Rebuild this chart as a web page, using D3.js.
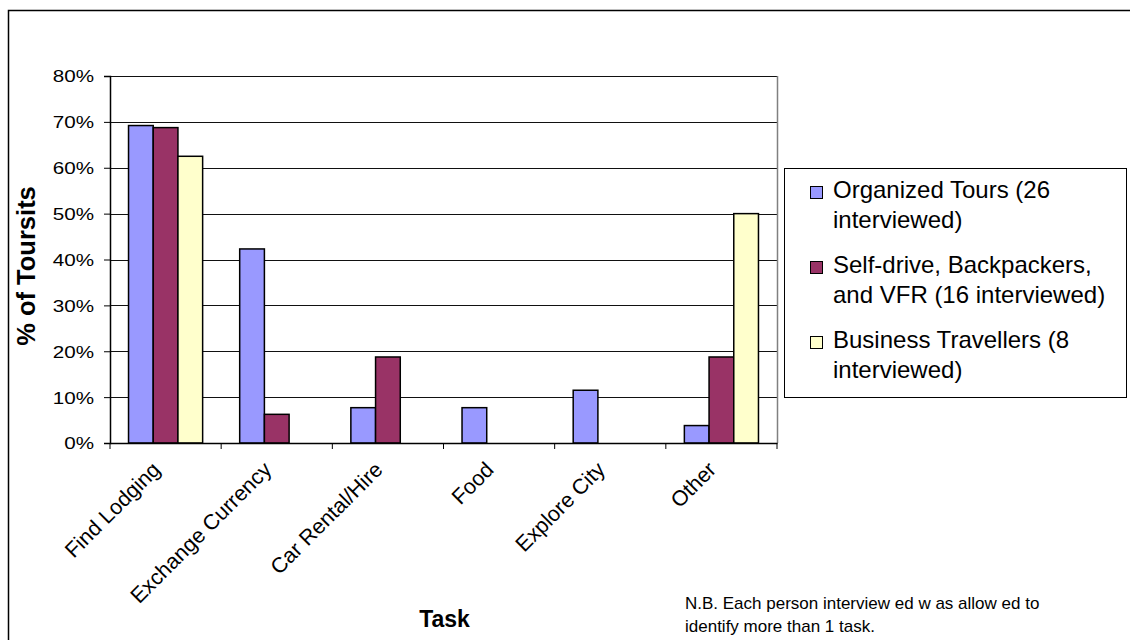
<!DOCTYPE html>
<html>
<head>
<meta charset="utf-8">
<script src="https://cdn.jsdelivr.net/npm/d3@7"></script>
<style>
  html, body { margin: 0; padding: 0; background: #fff; }
  svg { display: block; font-family: Arial, "Liberation Sans", sans-serif; }
</style>
</head>
<body>
<svg id="chart" width="1130" height="640"></svg>
<script>
const categories = ["Find Lodging", "Exchange Currency", "Car Rental/Hire", "Food", "Explore City", "Other"];
const seriesNames = [
  ["Organized Tours (26", "interviewed)"],
  ["Self-drive, Backpackers,", "and VFR (16 interviewed)"],
  ["Business Travellers (8", "interviewed)"]
];
const organizedTours = [0.692, 0.423, 0.077, 0.077, 0.115, 0.038];
const selfDrive      = [0.6875, 0.0625, 0.1875, 0, 0, 0.1875];
const business       = [0.625, 0, 0, 0, 0, 0.5];
const seriesColors = ["#9999FF", "#993366", "#FFFFCC"];
const yTicks = [0, 0.1, 0.2, 0.3, 0.4, 0.5, 0.6, 0.7, 0.8];
const yTitle = "% of Toursits";
const xTitle = "Task";
const noteLines = ["N.B. Each person interview ed w as allow ed to", "identify more than 1 task."];

const seriesValues = [organizedTours, selfDrive, business];

const svg = d3.select("#chart");
const W = 1130, H = 640;
const plot = {left: 110, right: 777, top: 76, bottom: 443};

svg.append("rect").attr("x", 0).attr("y", 0).attr("width", W).attr("height", H).attr("fill", "#fff");
svg.append("rect").attr("x", 8.5).attr("y", 10.5).attr("width", W + 10).attr("height", H + 10)
  .attr("fill", "none").attr("stroke", "#000").attr("stroke-width", 1.5);

const x0 = d3.scaleBand().domain(categories).range([plot.left, plot.right]).paddingInner(0).paddingOuter(0);
const x1 = d3.scaleBand().domain(d3.range(3)).range([0, x0.bandwidth()]).paddingInner(0).paddingOuter(0.75);
const y = d3.scaleLinear().domain([0, 0.8]).range([plot.bottom, plot.top]);

// gridlines
svg.append("g").selectAll("line").data(yTicks.filter(d => d > 0)).join("line")
  .attr("x1", plot.left).attr("x2", plot.right)
  .attr("y1", d => Math.round(y(d)) + 0.5).attr("y2", d => Math.round(y(d)) + 0.5)
  .attr("stroke", "#111").attr("stroke-width", 1);
svg.append("line").attr("x1", plot.right + 0.5).attr("x2", plot.right + 0.5)
  .attr("y1", plot.top).attr("y2", plot.bottom).attr("stroke", "#808080").attr("stroke-width", 1.5);

// bars
const groups = svg.append("g").selectAll("g").data(categories).join("g")
  .attr("transform", d => `translate(${x0(d)},0)`);
groups.selectAll("rect").data((c, i) => seriesValues.map((s, k) => ({k, v: s[i]})).filter(d => d.v > 0)).join("rect")
  .attr("x", d => x1(d.k)).attr("width", x1.bandwidth())
  .attr("y", d => y(d.v)).attr("height", d => y(0) - y(d.v))
  .attr("fill", d => seriesColors[d.k]).attr("stroke", "#000").attr("stroke-width", 1.5);

// y axis
const yAxis = d3.axisLeft(y).tickValues(yTicks).tickFormat(d3.format(".0%")).tickSizeOuter(0).tickSize(6).tickPadding(10);
const yg = svg.append("g").attr("transform", `translate(${plot.left},0)`).call(yAxis);
yg.select(".domain").attr("stroke", "#000").attr("stroke-width", 1.5);
yg.selectAll(".tick line").attr("stroke", "#000");
yg.selectAll(".tick text").attr("font-size", 16.5).attr("font-family", "Arial, 'Liberation Sans', sans-serif").attr("fill", "#000")
  .attr("x", 0).attr("dy", "0.36em").attr("transform", `translate(-16,0) scale(1.25,1)`);

// x axis
const xAxis = d3.axisBottom(x0).tickSize(0).tickSizeOuter(0);
const xg = svg.append("g").attr("transform", `translate(0,${plot.bottom})`).call(xAxis);
xg.select(".domain").attr("stroke", "#000").attr("stroke-width", 1.5);
const boundaries = categories.map(c => x0(c)).concat([plot.right]);
xg.selectAll(".bt").data(boundaries).join("line").attr("class", "bt")
  .attr("x1", d => d).attr("x2", d => d).attr("y1", 0).attr("y2", 6).attr("stroke", "#000");
xg.selectAll(".tick text")
  .attr("font-size", 21.5).attr("font-family", "Arial, 'Liberation Sans', sans-serif").attr("fill", "#000")
  .attr("text-anchor", "end").attr("dy", 0).attr("y", 0).attr("x", 0)
  .attr("transform", `translate(-4,28) rotate(-45)`);

// axis titles
svg.append("text").attr("transform", `translate(35,266) rotate(-90)`)
  .attr("text-anchor", "middle").attr("font-size", 25.5).attr("font-weight", "bold").text(yTitle);
svg.append("text").attr("x", (plot.left + plot.right) / 2 + 1).attr("y", 627)
  .attr("text-anchor", "middle").attr("font-size", 23).attr("font-weight", "bold").text(xTitle);

// legend
const lg = svg.append("g");
lg.append("rect").attr("x", 784.5).attr("y", 168.5).attr("width", 342).attr("height", 229)
  .attr("fill", "#fff").attr("stroke", "#000").attr("stroke-width", 1);
const legendItems = lg.selectAll("g.item").data(seriesNames).join("g").attr("class", "item")
  .attr("transform", (d, i) => `translate(0,${198 + i * 75})`);
legendItems.append("rect").attr("x", 810.5).attr("y", -11.5).attr("width", 12).attr("height", 12)
  .attr("fill", (d, i) => seriesColors[i]).attr("stroke", "#000").attr("stroke-width", 1);
legendItems.selectAll("text").data(d => d).join("text")
  .attr("x", 833).attr("y", (d, j) => j * 30)
  .attr("font-size", 24).attr("fill", "#000").text(d => d);

// note
svg.append("g").selectAll("text").data(noteLines).join("text")
  .attr("x", 685).attr("y", (d, i) => 609 + i * 23)
  .attr("font-size", 17).attr("fill", "#000").text(d => d);
</script>
</body>
</html>
